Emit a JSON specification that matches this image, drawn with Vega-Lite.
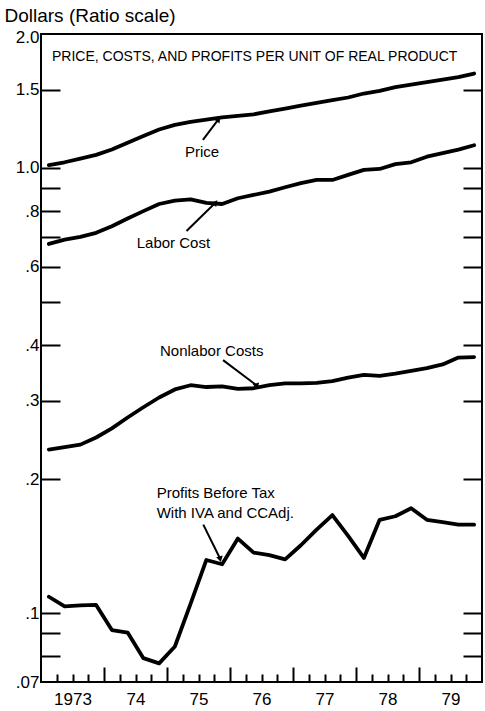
{
  "$schema": "https://vega.github.io/schema/vega-lite/v6.json",
  "width": 441,
  "height": 648,
  "autosize": {"type": "none"},
  "padding": {"left": 41, "top": 34, "right": 3, "bottom": 29},
  "background": "white",
  "config": {
    "view": {"stroke": "black", "strokeWidth": 2},
    "axis": {"domain": false, "grid": false, "tickColor": "black", "tickWidth": 2, "labelColor": "black", "labelFont": "Liberation Sans", "labelFontSize": 17}
  },
  "datasets": {
    "series": [
      {"t": 1973.125, "Price": 1.015, "Labor Cost": 0.675, "Nonlabor Costs": 0.233, "Profits": 0.1088},
      {"t": 1973.375, "Price": 1.03, "Labor Cost": 0.69, "Nonlabor Costs": 0.236, "Profits": 0.1035},
      {"t": 1973.625, "Price": 1.05, "Labor Cost": 0.70, "Nonlabor Costs": 0.239, "Profits": 0.104},
      {"t": 1973.875, "Price": 1.07, "Labor Cost": 0.715, "Nonlabor Costs": 0.248, "Profits": 0.1043},
      {"t": 1974.125, "Price": 1.10, "Labor Cost": 0.74, "Nonlabor Costs": 0.26, "Profits": 0.0916},
      {"t": 1974.375, "Price": 1.14, "Labor Cost": 0.77, "Nonlabor Costs": 0.275, "Profits": 0.0904},
      {"t": 1974.625, "Price": 1.18, "Labor Cost": 0.80, "Nonlabor Costs": 0.29, "Profits": 0.0792},
      {"t": 1974.875, "Price": 1.22, "Labor Cost": 0.83, "Nonlabor Costs": 0.305, "Profits": 0.0771},
      {"t": 1975.125, "Price": 1.25, "Labor Cost": 0.845, "Nonlabor Costs": 0.318, "Profits": 0.0841},
      {"t": 1975.375, "Price": 1.27, "Labor Cost": 0.85, "Nonlabor Costs": 0.325, "Profits": 0.105},
      {"t": 1975.625, "Price": 1.285, "Labor Cost": 0.835, "Nonlabor Costs": 0.322, "Profits": 0.1316},
      {"t": 1975.875, "Price": 1.30, "Labor Cost": 0.83, "Nonlabor Costs": 0.323, "Profits": 0.1287},
      {"t": 1976.125, "Price": 1.31, "Labor Cost": 0.855, "Nonlabor Costs": 0.319, "Profits": 0.147},
      {"t": 1976.375, "Price": 1.32, "Labor Cost": 0.87, "Nonlabor Costs": 0.32, "Profits": 0.1367},
      {"t": 1976.625, "Price": 1.34, "Labor Cost": 0.885, "Nonlabor Costs": 0.325, "Profits": 0.135},
      {"t": 1976.875, "Price": 1.36, "Labor Cost": 0.905, "Nonlabor Costs": 0.328, "Profits": 0.132},
      {"t": 1977.125, "Price": 1.38, "Labor Cost": 0.925, "Nonlabor Costs": 0.328, "Profits": 0.142},
      {"t": 1977.375, "Price": 1.40, "Labor Cost": 0.94, "Nonlabor Costs": 0.329, "Profits": 0.154},
      {"t": 1977.625, "Price": 1.42, "Labor Cost": 0.94, "Nonlabor Costs": 0.332, "Profits": 0.166},
      {"t": 1977.875, "Price": 1.44, "Labor Cost": 0.965, "Nonlabor Costs": 0.338, "Profits": 0.149},
      {"t": 1978.125, "Price": 1.47, "Labor Cost": 0.99, "Nonlabor Costs": 0.343, "Profits": 0.133},
      {"t": 1978.375, "Price": 1.49, "Labor Cost": 0.995, "Nonlabor Costs": 0.341, "Profits": 0.162},
      {"t": 1978.625, "Price": 1.52, "Labor Cost": 1.02, "Nonlabor Costs": 0.345, "Profits": 0.165},
      {"t": 1978.875, "Price": 1.54, "Labor Cost": 1.03, "Nonlabor Costs": 0.35, "Profits": 0.172},
      {"t": 1979.125, "Price": 1.56, "Labor Cost": 1.06, "Nonlabor Costs": 0.355, "Profits": 0.162},
      {"t": 1979.375, "Price": 1.58, "Labor Cost": 1.08, "Nonlabor Costs": 0.362, "Profits": 0.160},
      {"t": 1979.625, "Price": 1.60, "Labor Cost": 1.10, "Nonlabor Costs": 0.375, "Profits": 0.158},
      {"t": 1979.875, "Price": 1.63, "Labor Cost": 1.125, "Nonlabor Costs": 0.376, "Profits": 0.158}
    ],
    "title": [
      {"label": "PRICE, COSTS, AND PROFITS PER UNIT OF REAL PRODUCT", "t": 1973.175, "v": 1.776}
    ],
    "labels": [
      {"label": "Price", "t": 1975.286, "v": 1.088},
      {"label": "Labor Cost", "t": 1974.519, "v": 0.677},
      {"label": "Nonlabor Costs", "t": 1974.889, "v": 0.387},
      {"label": "Profits Before Tax", "t": 1974.836, "v": 0.186},
      {"label": "With IVA and CCAdj.", "t": 1974.836, "v": 0.168}
    ],
    "arrows": [
      {"name": "Price", "t": 1975.57, "v": 1.156, "t2": 1975.81, "v2": 1.282},
      {"name": "Labor", "t": 1975.31, "v": 0.722, "t2": 1975.76, "v2": 0.833},
      {"name": "Nonlabor", "t": 1975.89, "v": 0.370, "t2": 1976.42, "v2": 0.325},
      {"name": "Profits", "t": 1975.576, "v": 0.158, "t2": 1975.84, "v2": 0.1328}
    ]
  },
  "resolve": {"axis": {"x": "independent", "y": "independent"}},
  "layer": [
    {
      "data": {"name": "series"},
      "transform": [{"fold": ["Price", "Labor Cost", "Nonlabor Costs", "Profits"], "as": ["s", "v"]}],
      "mark": {"type": "line", "color": "black", "strokeWidth": 3.8, "strokeJoin": "round", "strokeCap": "round"},
      "encoding": {
        "x": {"field": "t", "type": "quantitative", "scale": {"domain": [1973, 1980], "nice": false, "zero": false},
          "axis": {"orient": "bottom", "title": null, "labels": false, "tickSize": -8,
            "values": [1973.25, 1973.5, 1973.75, 1974.25, 1974.5, 1974.75, 1975.25, 1975.5, 1975.75, 1976.25, 1976.5, 1976.75, 1977.25, 1977.5, 1977.75, 1978.25, 1978.5, 1978.75, 1979.25, 1979.5, 1979.75]}},
        "y": {"field": "v", "type": "quantitative", "scale": {"type": "log", "domain": [0.07, 2], "nice": false},
          "axis": {"orient": "left", "title": null, "labels": false, "tickSize": -19,
            "values": [1.5, 1, 0.9, 0.8, 0.7, 0.6, 0.5, 0.4, 0.3, 0.2, 0.1, 0.09, 0.08]}},
        "detail": {"field": "s"}
      }
    },
    {
      "data": {"name": "labels"},
      "mark": {"type": "text", "align": "left", "baseline": "middle", "font": "Liberation Sans", "fontSize": 15, "color": "black"},
      "encoding": {
        "x": {"field": "t", "type": "quantitative",
          "axis": {"orient": "bottom", "title": null, "labels": false, "tickSize": -15, "values": [1974, 1975, 1976, 1977, 1978, 1979]}},
        "y": {"field": "v", "type": "quantitative",
          "axis": {"orient": "right", "title": null, "labels": false, "tickSize": -19,
            "values": [1.5, 1, 0.9, 0.8, 0.7, 0.6, 0.5, 0.4, 0.3, 0.2, 0.1, 0.09, 0.08]}},
        "text": {"field": "label"}
      }
    },
    {
      "data": {"name": "title"},
      "mark": {"type": "text", "align": "left", "baseline": "middle", "font": "Liberation Sans", "fontSize": 14, "color": "black"},
      "encoding": {
        "x": {"field": "t", "type": "quantitative", "axis": null},
        "y": {"field": "v", "type": "quantitative", "axis": null},
        "text": {"field": "label"}
      }
    },
    {
      "data": {"name": "arrows"},
      "mark": {"type": "rule", "color": "black", "strokeWidth": 2},
      "encoding": {
        "x": {"field": "t", "type": "quantitative",
          "axis": {"orient": "bottom", "title": null, "ticks": false, "labelPadding": 9, "labelFlush": false, "labelOverlap": false,
            "values": [1973.5, 1974.5, 1975.5, 1976.5, 1977.5, 1978.5, 1979.5],
            "labelExpr": "datum.value < 1974 ? '1973' : slice(format(floor(datum.value), 'd'), 2)"}},
        "y": {"field": "v", "type": "quantitative",
          "axis": {"orient": "left", "ticks": false, "labelPadding": 2, "labelFlush": false, "labelOverlap": false,
            "values": [2, 1.5, 1, 0.8, 0.6, 0.4, 0.3, 0.2, 0.1, 0.07],
            "labelOffset": {"condition": {"test": "datum.value == 2", "value": 3}, "value": 0},
            "labelExpr": "datum.value >= 1 ? format(datum.value, '.1f') : replace(format(datum.value, '.2~f'), '0.', '.')",
            "title": "Dollars (Ratio scale)", "titleAngle": 0, "titleAlign": "left", "titleBaseline": "alphabetic",
            "titleX": -37, "titleY": -13, "titleFont": "Liberation Sans", "titleFontSize": 19, "titleFontWeight": "normal", "titleColor": "black"}},
        "x2": {"field": "t2"},
        "y2": {"field": "v2"}
      }
    },
    {
      "data": {"name": "arrows"},
      "mark": {"type": "point", "shape": "triangle", "filled": true, "color": "black", "size": 45, "opacity": 1},
      "encoding": {
        "x": {"field": "t2", "type": "quantitative", "axis": null},
        "y": {"field": "v2", "type": "quantitative", "axis": null},
        "angle": {"field": "name", "type": "ordinal", "scale": {"domain": ["Price", "Labor", "Nonlabor", "Profits"], "range": [37, 46, 127, 153]}, "legend": null}
      }
    }
  ]
}
